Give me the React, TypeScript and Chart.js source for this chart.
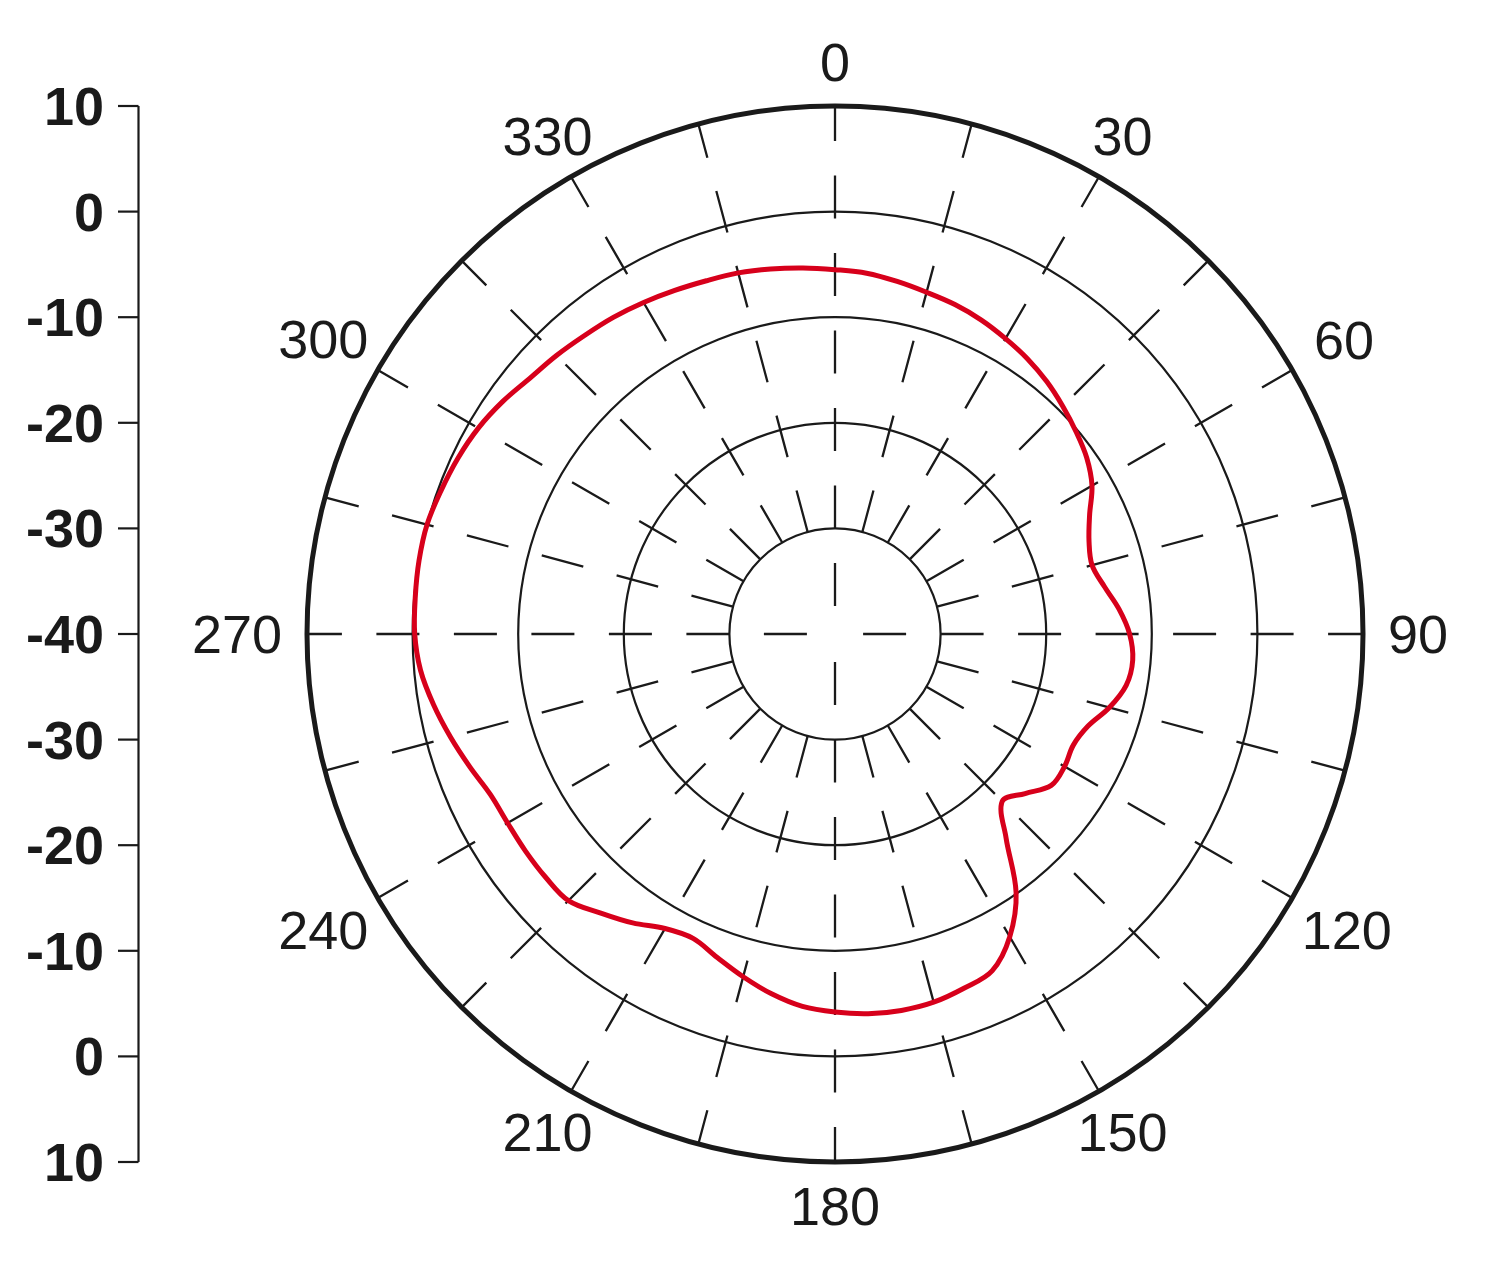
import { useEffect, useRef } from "react";
import { Chart, registerables } from "chart.js";

Chart.register(...registerables);

// Angles (degrees, clockwise from top) and measured gain (dB)
const angles = [
  0, 5, 10, 15, 20, 25, 30, 35, 40, 45, 50, 55,
  60, 65, 70, 75, 80, 85, 90, 95, 100, 105, 110, 115,
  120, 125, 130, 135, 140, 145, 150, 155, 160, 165, 170, 175,
  180, 185, 190, 195, 200, 205, 210, 215, 220, 225, 230, 235,
  240, 245, 250, 255, 260, 265, 270, 275, 280, 285, 290, 295,
  300, 305, 310, 315, 320, 325, 330, 335, 340, 345, 350, 355,
];
const gainDb = [
  -5.5, -5.7, -6.1, -6.5, -6.8, -7.2, -7.7, -8.2, -8.8, -9.5, -10.2, -10.9,
  -11.9, -13.4, -14.4, -14.8, -14.1, -13.0, -12.1, -11.7, -12.0, -13.1, -14.5, -15.1,
  -14.9, -15.0, -16.5, -17.6, -14.8, -10.1, -6.9, -4.8, -4.3, -3.9, -3.8, -3.9,
  -4.2, -4.6, -5.4, -6.4, -7.4, -8.2, -7.8, -6.6, -5.5, -4.3, -4.2, -4.2,
  -4.2, -4.0, -3.2, -2.3, -1.4, -0.6, -0.2, -0.1, 0.0, 0.0, -0.3, -0.6,
  -1.0, -1.6, -2.3, -2.7, -3.1, -3.4, -3.75, -4.1, -4.4, -4.6, -4.9, -5.2,
];
const ringMin = -40;
const ringMax = 10;
const ringStep = 10;
const angleLabelValues = [0, 30, 60, 90, 120, 150, 180, 210, 240, 270, 300, 330];
const sideAxisValues = [10, 0, -10, -20, -30, -40, -30, -20, -10, 0, 10];

const INK = "#1a1a1a";
const RED = "#d7001b";
const FONT = '"Liberation Sans", Arial, Helvetica, sans-serif';

const polarDecor = {
  id: "polarDecor",
  beforeDatasetsDraw(chart: any) {
    const s = chart.scales.r;
    const ctx = chart.ctx as CanvasRenderingContext2D;
    const outer = s.getDistanceFromCenterForValue(ringMax);
    const inner = s.getDistanceFromCenterForValue(-30);
    const dash = 43;
    const period = 77.5;
    ctx.save();
    ctx.strokeStyle = INK;
    ctx.lineWidth = 2.3;
    ctx.setLineDash([dash, period - dash]);
    for (let i = 0; i < angles.length; i++) {
      const a = angles[i];
      if (a % 15 !== 0) continue;
      const main = a % 90 === 0;
      const start = main ? 0 : inner;
      const p0 = s.getPointPosition(i, start);
      const p1 = s.getPointPosition(i, outer);
      ctx.lineDashOffset = main ? 2 * period - inner : 0;
      ctx.beginPath();
      ctx.moveTo(p0.x, p0.y);
      ctx.lineTo(p1.x, p1.y);
      ctx.stroke();
    }
    ctx.restore();
  },
  afterDatasetsDraw(chart: any) {
    const s = chart.scales.r;
    const ctx = chart.ctx as CanvasRenderingContext2D;
    const outer = s.getDistanceFromCenterForValue(ringMax);
    ctx.save();
    ctx.fillStyle = INK;
    ctx.font = `54px ${FONT}`;
    ctx.textAlign = "center";
    ctx.textBaseline = "alphabetic";
    for (const a of angleLabelValues) {
      const i = angles.indexOf(a);
      const text = String(a);
      const m = ctx.measureText(text);
      const w = m.width;
      const h = m.actualBoundingBoxAscent || 38;
      const rad = (a * Math.PI) / 180;
      const sn = Math.abs(Math.sin(rad));
      const cs = Math.abs(Math.cos(rad));
      const ex = Math.min(sn > 1e-6 ? w / 2 / sn : Infinity, cs > 1e-6 ? h / 2 / cs : Infinity);
      const p = s.getPointPosition(i, outer + 25 + ex);
      ctx.fillText(text, p.x, p.y + h / 2);
    }

    // left dB axis
    const yc = s.yCenter;
    const axisX = 138.5;
    ctx.strokeStyle = INK;
    ctx.lineWidth = 2.2;
    ctx.beginPath();
    ctx.moveTo(axisX, yc - outer);
    ctx.lineTo(axisX, yc + outer);
    ctx.stroke();
    ctx.font = `bold 54px ${FONT}`;
    ctx.textAlign = "right";
    const mid = Math.floor(sideAxisValues.length / 2);
    sideAxisValues.forEach((v, k) => {
      const d = s.getDistanceFromCenterForValue(v);
      const y = k < mid ? yc - d : k > mid ? yc + d : yc;
      ctx.beginPath();
      ctx.moveTo(118, y);
      ctx.lineTo(axisX, y);
      ctx.stroke();
      const m = ctx.measureText(String(v));
      const h = m.actualBoundingBoxAscent || 38;
      ctx.fillText(String(v), 104, y + h / 2);
    });
    ctx.restore();
  },
};

export default function App() {
  const ref = useRef<HTMLCanvasElement>(null);
  useEffect(() => {
    const chart = new Chart(ref.current as HTMLCanvasElement, {
      type: "radar",
      data: {
        labels: angles.map((a) => String(a)),
        datasets: [
          {
            data: gainDb,
            borderColor: RED,
            borderWidth: 5,
            fill: false,
            pointRadius: 0,
            pointHoverRadius: 0,
            tension: 0.35,
          },
        ],
      },
      options: {
        responsive: false,
        animation: false,
        devicePixelRatio: 1,
        layout: { padding: { left: 307, right: 137, top: 106, bottom: 108 } },
        plugins: { legend: { display: false }, tooltip: { enabled: false }, title: { display: false } },
        scales: {
          r: {
            min: ringMin,
            max: ringMax,
            ticks: { display: false, stepSize: ringStep },
            pointLabels: { display: false },
            angleLines: { display: false },
            grid: {
              circular: true,
              color: INK,
              lineWidth: (c: any) => (c.tick && c.tick.value === ringMax ? 5 : 2.2),
            },
          },
        },
      },
      plugins: [polarDecor],
    } as any);
    return () => chart.destroy();
  }, []);
  return (
    <div style={{ position: "absolute", left: 0, top: 0, width: 1500, height: 1270, background: "#fff" }}>
      <canvas ref={ref} width={1500} height={1270} style={{ display: "block" }} />
    </div>
  );
}
